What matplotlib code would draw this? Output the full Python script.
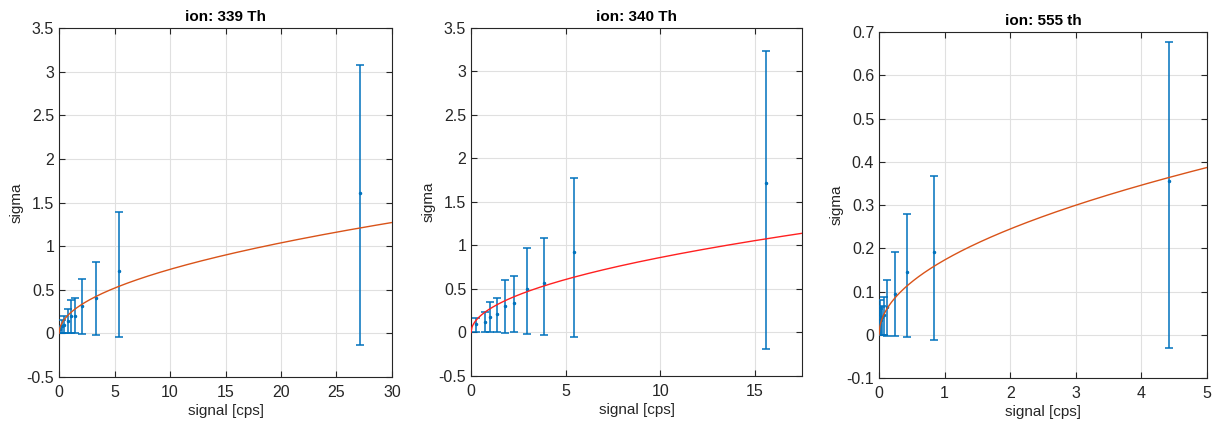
import numpy as np
import matplotlib
matplotlib.use('Agg')
import matplotlib.pyplot as plt

plt.rcParams['font.family'] = ['Liberation Sans', 'DejaVu Sans']

# ion 339 Th
x1 = [0.10, 0.27, 0.48, 0.78, 1.08, 1.44, 2.04, 3.3, 5.4, 27.1]
y1 = [0.05, 0.08, 0.10, 0.14, 0.20, 0.20, 0.31, 0.40, 0.72, 1.61]
lo1 = [0.0, 0.0, 0.0, 0.0, 0.0, 0.0, -0.01, -0.02, -0.04, -0.13]
hi1 = [0.09, 0.15, 0.20, 0.275, 0.38, 0.40, 0.62, 0.815, 1.39, 3.08]
k1 = 0.232

# ion 340 Th
x2 = [0.28, 0.72, 1.0, 1.37, 1.78, 2.29, 2.96, 3.86, 5.45, 15.62]
y2 = [0.10, 0.125, 0.18, 0.21, 0.31, 0.34, 0.50, 0.57, 0.93, 1.72]
lo2 = [0.0, 0.0, 0.0, 0.0, -0.01, 0.0, -0.02, -0.03, -0.05, -0.19]
hi2 = [0.165, 0.24, 0.345, 0.40, 0.60, 0.645, 0.97, 1.09, 1.78, 3.24]
k2 = 0.2725

# ion 555 th
x3 = [0.005, 0.015, 0.03, 0.05, 0.076, 0.127, 0.244, 0.43, 0.83, 4.42]
y3 = [0.03, 0.04, 0.035, 0.04, 0.045, 0.065, 0.094, 0.145, 0.192, 0.356]
lo3 = [0.0, 0.0, 0.0, 0.0, 0.0, -0.003, -0.003, -0.006, -0.013, -0.031]
hi3 = [0.06, 0.08, 0.065, 0.067, 0.087, 0.126, 0.191, 0.28, 0.366, 0.678]
k3 = 0.173

panels = [
    ('ion: 339 Th', x1, y1, lo1, hi1, k1, (0, 30), (-0.5, 3.5), np.arange(0, 31, 5),
     np.arange(-0.5, 3.6, 0.5), '#D95319', [0.0486, 0.113, 0.274, 0.821]),
    ('ion: 340 Th', x2, y2, lo2, hi2, k2, (0, 17.5), (-0.5, 3.5), np.arange(0, 16, 5),
     np.arange(-0.5, 3.6, 0.5), '#FF2020', [0.3877, 0.1153, 0.2724, 0.819]),
    ('ion: 555 th', x3, y3, lo3, hi3, k3, (0, 5), (-0.1, 0.7), np.arange(0, 6, 1),
     np.arange(-0.1, 0.71, 0.1), '#D95319', [0.7235, 0.1106, 0.27, 0.814]),
]

fig = plt.figure(figsize=(12.15, 4.25), dpi=100)

def fmt(v):
    s = '%g' % round(v, 3)
    return s

for title, x, y, lo, hi, k, xl, yl, xt, yt, fitc, pos in panels:
    ax = fig.add_axes(pos)
    x = np.array(x); y = np.array(y)
    err = [y - np.array(lo), np.array(hi) - y]
    ax.errorbar(x, y, yerr=err, fmt='.', color='#0072BD', ms=3, lw=1.1,
                capsize=3, capthick=1.1, zorder=3)
    # sqrt fit curve
    xf = np.linspace(0, xl[1], 400)
    ax.plot(xf, k * np.sqrt(xf), color=fitc, lw=1.0, zorder=4)
    ax.set_xlim(xl)
    ax.set_ylim(yl)
    ax.set_xticks(xt)
    ax.set_yticks(yt)
    ax.set_xticklabels([fmt(v) for v in xt])
    ax.set_yticklabels([fmt(v) for v in yt])
    ax.grid(True, color='#e0e0e0', lw=0.8)
    ax.set_axisbelow(True)
    ax.tick_params(direction='in', top=True, right=True, labelsize=11.5,
                   colors='#262626', length=4, width=0.8)
    ax.tick_params(axis='x', pad=6)
    for s in ax.spines.values():
        s.set_color('#262626')
        s.set_linewidth(0.8)
    ax.set_title(title, fontsize=11, fontweight='bold', pad=5)
    ax.set_xlabel('signal [cps]', fontsize=11, color='#262626', labelpad=3)
    ax.set_ylabel('sigma', fontsize=11, color='#262626', labelpad=2)

fig.savefig('out.png', dpi=100)
